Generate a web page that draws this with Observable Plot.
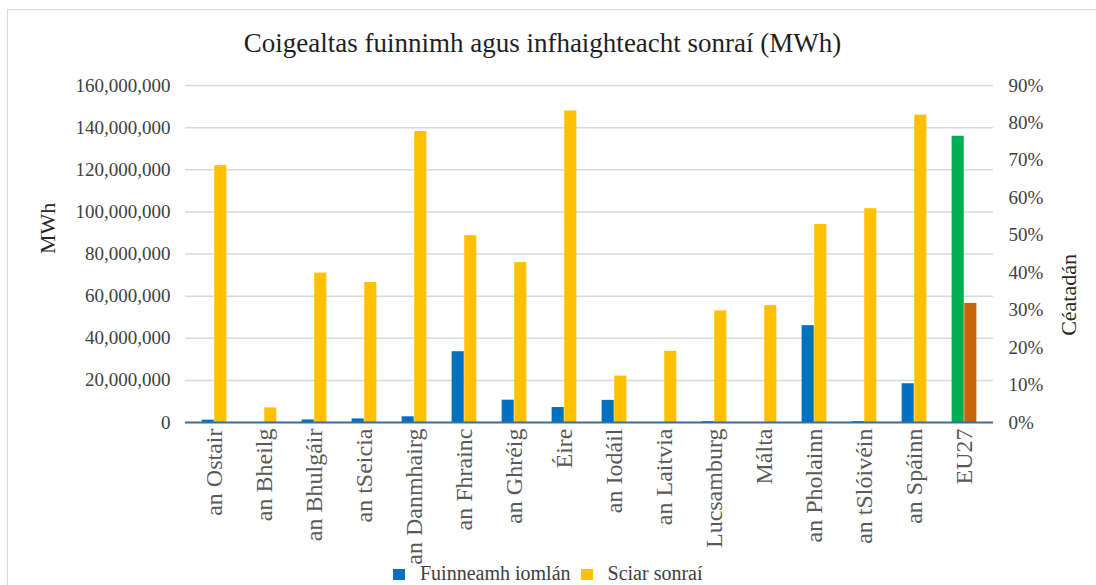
<!DOCTYPE html>
<html>
<head>
<meta charset="utf-8">
<script src="https://cdn.jsdelivr.net/npm/d3@7"></script>
<script src="https://cdn.jsdelivr.net/npm/@observablehq/plot@0.6"></script>
<style>
  html, body { margin: 0; padding: 0; background: #fff; }
  body { width: 1096px; height: 585px; overflow: hidden; position: relative; font-family: 'Liberation Serif', 'Times New Roman', serif; }
  #frame { position: absolute; left: 7px; top: 9px; width: 1200px; height: 700px; border: 1px solid #d9d9d9; pointer-events: none; }
  #title { height: 70px; box-sizing: border-box; padding-top: 30px; padding-right: 11px; text-align: center; font-family: 'Liberation Serif', serif; font-size: 27px; line-height: 27px; color: #1f1f1f; }
  #chart svg { display: block; }
  #legend { position: relative; height: 20px; margin-top: -4px; display: flex; align-items: flex-start; font-family: 'Liberation Serif', serif; font-size: 20px; line-height: 20px; color: #404040; box-sizing: border-box; }
  .sw { display: inline-block; width: 12px; height: 11px; margin-top: 6px; }
</style>
</head>
<body>
<div id="frame"></div>
<div id="title"></div>
<div id="chart"></div>
<div id="legend"></div>
<script>
const titleText = "Coigealtas fuinnimh agus infhaighteacht sonraí (MWh)";
const categories = ["an Ostair","an Bheilg","an Bhulgáir","an tSeicia","an Danmhairg","an Fhrainc","an Ghréig","Éire","an Iodáil","an Laitvia","Lucsamburg","Málta","an Pholainn","an tSlóivéin","an Spáinn","EU27"];
const energyMWh = [1.1e6, 0, 1.2e6, 1.7e6, 2.7e6, 33.6e6, 10.6e6, 7.1e6, 10.5e6, 0, 0.4e6, 0, 46.0e6, 0.4e6, 18.4e6, 135.9e6];
const sharePct = [68.6, 3.9, 39.9, 37.4, 77.7, 49.9, 42.7, 83.2, 12.4, 19.0, 29.8, 31.2, 52.9, 57.1, 82.1, 31.8];
const seriesNames = ["Fuinneamh iomlán", "Sciar sonraí"];
const seriesColors = ["#0070C0", "#FFC000"];
const totalColors = ["#00B050", "#C8650A"];
const totalCategory = "EU27";
const leftTicks = [0, 20e6, 40e6, 60e6, 80e6, 100e6, 120e6, 140e6, 160e6];
const rightTicks = [0, 10, 20, 30, 40, 50, 60, 70, 80, 90];
const leftLabel = "MWh";
const rightLabel = "Céatadán";

const yMax = leftTicks[leftTicks.length - 1];
const pMax = rightTicks[rightTicks.length - 1];
const toY = p => p / pMax * yMax;

const energyRows = categories.map((c, i) => ({cat: c, value: energyMWh[i], color: c === totalCategory ? totalColors[0] : seriesColors[0]}));
const shareRows = categories.map((c, i) => ({cat: c, value: toY(sharePct[i]), color: c === totalCategory ? totalColors[1] : seriesColors[1]}));

const W = 1096, mL = 185, mR = 103;
const bw = (W - mL - mR) / categories.length;

document.getElementById("title").textContent = titleText;

const chart = Plot.plot({
  width: W, height: 497,
  marginTop: 15, marginBottom: 145, marginLeft: mL, marginRight: mR,
  style: {fontFamily: "'Liberation Serif', 'Times New Roman', serif", fontSize: "19px", color: "#404040", background: "transparent", overflow: "visible"},
  x: {domain: categories, padding: 0, axis: null},
  y: {domain: [0, yMax], axis: null},
  color: {type: "identity"},
  marks: [
    Plot.ruleY(leftTicks.slice(1), {stroke: "#d9d9d9", strokeWidth: 1.5}),
    Plot.barY(energyRows, {x: "cat", y: "value", fill: "color", insetLeft: bw * 0.25, insetRight: bw * 0.5}),
    Plot.barY(shareRows, {x: "cat", y: "value", fill: "color", insetLeft: bw * 0.5, insetRight: bw * 0.25}),
    Plot.ruleY([0], {stroke: "#3b6e9b", strokeWidth: 2}),
    Plot.axisY(leftTicks, {anchor: "left", tickSize: 0, tickPadding: 15, tickFormat: d3.format(","), label: null, fontSize: 19}),
    Plot.axisY(rightTicks.map(toY), {anchor: "right", tickSize: 0, tickPadding: 15, tickFormat: d => Math.round(d / yMax * pMax) + "%", label: null, fontSize: 19}),
    Plot.axisX({tickRotate: -90, tickSize: 0, tickPadding: 6, fontSize: 24, label: null, fill: "#595959"}),
    Plot.text([leftLabel], {frameAnchor: "left", rotate: -90, dx: -138, fontSize: 22, fill: "#262626"}),
    Plot.text([rightLabel], {frameAnchor: "right", rotate: -90, dx: 75, fontSize: 22, fill: "#262626"})
  ]
});
document.getElementById("chart").appendChild(chart);

const legend = document.getElementById("legend");
legend.style.paddingLeft = "393px";
seriesNames.forEach((name, i) => {
  const sw = document.createElement("span");
  sw.className = "sw";
  sw.style.background = seriesColors[i];
  sw.style.marginRight = "15px";
  const t = document.createElement("span");
  t.textContent = name;
  t.style.marginRight = "10px";
  legend.appendChild(sw);
  legend.appendChild(t);
});
</script>
</body>
</html>
